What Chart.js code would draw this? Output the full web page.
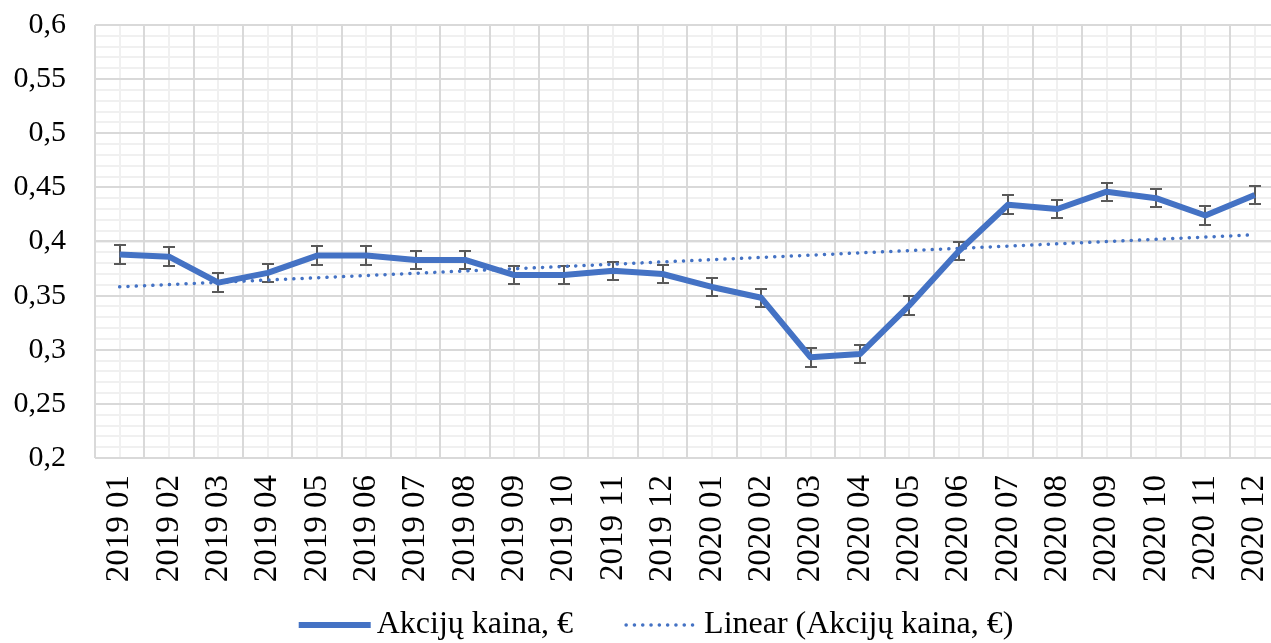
<!DOCTYPE html>
<html>
<head>
<meta charset="utf-8">
<script src="https://cdn.jsdelivr.net/npm/chart.js@4.4.1/dist/chart.umd.min.js"></script>
<style>
  html, body { margin: 0; padding: 0; background: #fff; overflow: hidden; }
</style>
</head>
<body>
<canvas id="kainaChart" width="1312" height="643"></canvas>
<script>
// duomenys
const menesiai = [
    '2019 01', '2019 02', '2019 03', '2019 04', '2019 05', '2019 06',
    '2019 07', '2019 08', '2019 09', '2019 10', '2019 11', '2019 12',
    '2020 01', '2020 02', '2020 03', '2020 04', '2020 05', '2020 06',
    '2020 07', '2020 08', '2020 09', '2020 10', '2020 11', '2020 12'
];
const kainos = [
    0.388, 0.386, 0.362, 0.371, 0.387, 0.387,
    0.383, 0.383, 0.369, 0.369, 0.373, 0.370,
    0.358, 0.348, 0.293, 0.296, 0.341, 0.391,
    0.434, 0.430, 0.446, 0.440, 0.424, 0.443
];
const paklaida = 0.0085; // error bar +/-
const yMin = 0.2;
const yMax = 0.6;
const yStep = 0.05;
const yMinorStep = 0.01;

const BLUE = '#4472C4';
const FONT = "'Liberation Serif', 'Times New Roman', serif";

// Excel style linear trendline (least squares) over the series
function linearTrend(values) {
    const n = values.length;
    const mx = (n - 1) / 2;
    const my = values.reduce((a, b) => a + b, 0) / n;
    let num = 0, den = 0;
    values.forEach((v, i) => {
        num += (i - mx) * (v - my);
        den += (i - mx) * (i - mx);
    });
    const k = num / den;
    return values.map((v, i) => my + k * (i - mx));
}

const errorBars = {
    id: 'errorBars',
    beforeDatasetsDraw(chart) {
        const meta = chart.getDatasetMeta(0);
        const y = chart.scales.y;
        const ctx = chart.ctx;
        ctx.save();
        ctx.strokeStyle = '#595959';
        ctx.lineWidth = 2;
        meta.data.forEach((pt, i) => {
            const top = Math.round(y.getPixelForValue(kainos[i] + paklaida));
            const bot = Math.round(y.getPixelForValue(kainos[i] - paklaida));
            const x = Math.round(pt.x);
            ctx.beginPath();
            ctx.moveTo(x, top); ctx.lineTo(x, bot);
            ctx.moveTo(x - 6, top); ctx.lineTo(x + 6, top);
            ctx.moveTo(x - 6, bot); ctx.lineTo(x + 6, bot);
            ctx.stroke();
        });
        ctx.restore();
    }
};

// legend under the axis, Excel style (short line sample, then the text)
const excelLegend = {
    id: 'excelLegend',
    afterDraw(chart) {
        const ctx = chart.ctx;
        const lineLen = 72, textGap = 6, itemGap = 53;
        const cx = 656, cy = 625;
        ctx.save();
        ctx.font = '32px ' + FONT;
        const items = chart.data.datasets.map(ds => ({
            text: ds.label,
            w: ctx.measureText(ds.label).width,
            lw: ds.borderWidth,
            dash: ds.borderDash || [],
            cap: ds.borderCapStyle || 'butt',
            color: ds.borderColor
        }));
        const total = items.reduce((s, it) => s + lineLen + textGap + it.w, 0) + itemGap * (items.length - 1);
        let x = cx - total / 2;
        items.forEach(it => {
            ctx.beginPath();
            ctx.setLineDash(it.dash);
            ctx.lineCap = it.cap;
            ctx.lineWidth = it.lw;
            ctx.strokeStyle = it.color;
            ctx.moveTo(x, cy);
            ctx.lineTo(x + lineLen, cy);
            ctx.stroke();
            ctx.setLineDash([]);
            ctx.fillStyle = '#000';
            ctx.textBaseline = 'middle';
            ctx.textAlign = 'left';
            ctx.fillText(it.text, x + lineLen + textGap, cy);
            x += lineLen + textGap + it.w + itemGap;
        });
        ctx.restore();
    }
};

const ctx = document.getElementById('kainaChart').getContext('2d');
new Chart(ctx, {
    type: 'line',
    data: {
        labels: menesiai,
        datasets: [
            {
                label: 'Akcijų kaina, €',
                data: kainos,
                borderColor: BLUE,
                borderWidth: 6,
                borderJoinStyle: 'round',
                pointRadius: 0,
                tension: 0
            },
            {
                label: 'Linear (Akcijų kaina, €)',
                data: linearTrend(kainos),
                borderColor: BLUE,
                borderWidth: 3.5,
                borderDash: [0.1, 8.2],
                borderCapStyle: 'round',
                pointRadius: 0
            }
        ]
    },
    options: {
        responsive: false,
        animation: false,
        layout: { padding: { top: 25, right: 9, left: 0, bottom: 55 } },
        plugins: {
            tooltip: { enabled: false },
            legend: { display: false }
        },
        scales: {
            xMinor: {
                type: 'category',
                labels: menesiai,
                position: 'bottom',
                offset: true,
                z: -1,
                grid: { offset: false, color: '#f0f0f0', lineWidth: 2, drawTicks: false },
                border: { display: false },
                ticks: { display: false },
                afterFit: s => { s.height = 0; }
            },
            yMinor: {
                type: 'linear',
                position: 'left',
                min: yMin,
                max: yMax,
                z: -1,
                grid: { color: '#f0f0f0', lineWidth: 2, drawTicks: false },
                border: { display: false },
                ticks: { display: false, stepSize: yMinorStep },
                afterFit: s => { s.width = 0; s.paddingTop = 0; s.paddingBottom = 0; }
            },
            x: {
                offset: true,
                grid: { offset: true, color: '#d9d9d9', lineWidth: 2, drawTicks: false },
                border: { display: false },
                ticks: {
                    minRotation: 90,
                    maxRotation: 90,
                    autoSkip: false,
                    padding: 17,
                    color: '#000',
                    font: { family: FONT, size: 33 }
                },
                afterFit: s => { s.height = 130; }
            },
            y: {
                min: yMin,
                max: yMax,
                grid: { color: '#d9d9d9', lineWidth: 2, drawTicks: false },
                border: { display: false },
                ticks: {
                    stepSize: yStep,
                    padding: 29,
                    color: '#000',
                    font: { family: FONT, size: 30 },
                    callback: v => String(+v.toFixed(2)).replace('.', ',')
                },
                afterFit: s => { s.width = 95; s.paddingTop = 0; s.paddingBottom = 0; }
            }
        }
    },
    plugins: [errorBars, excelLegend]
});
</script>
</body>
</html>
